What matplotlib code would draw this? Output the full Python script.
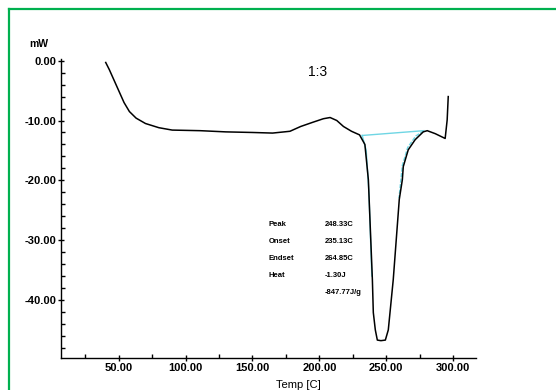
import matplotlib
matplotlib.use("Agg")
import matplotlib.pyplot as plt
from matplotlib.lines import Line2D
from matplotlib.ticker import MultipleLocator, FormatStrFormatter

# DSC trace (temperature in C, heat flow in mW)
temp = [40.3, 43.0, 46.0, 50.0, 54.0, 58.0, 63.0, 70.0, 80.0, 90.0, 111.0,
        130.0, 150.0, 165.0, 178.0, 186.0, 195.0, 203.0, 208.0, 213.0, 218.0,
        224.0, 230.0, 234.0, 236.6, 239.6, 240.3, 241.8, 243.3, 246.0, 249.3,
        251.5, 255.2, 259.7, 262.0, 262.7, 266.4, 271.6, 277.6, 280.6, 286.6,
        294.0, 295.5, 296.3]
flow = [-0.3, -1.5, -3.0, -5.0, -7.0, -8.5, -9.6, -10.5, -11.2, -11.6, -11.7,
        -11.9, -12.0, -12.1, -11.8, -11.0, -10.3, -9.7, -9.5, -10.0, -11.0,
        -11.8, -12.4, -14.0, -19.9, -36.6, -42.1, -45.0, -46.7, -46.8, -46.7,
        -45.0, -36.6, -23.2, -19.9, -17.7, -14.9, -13.2, -11.9, -11.7, -12.2,
        -13.0, -9.9, -6.0]

# cyan integration baseline and tangent guides
base_t = [232.0, 278.0]
base_f = [-12.5, -11.7]
left_t = [232.0, 235.0, 237.0, 239.2]
left_f = [-12.5, -15.0, -22.0, -36.0]
right_t = [278.0, 272.0, 266.0, 262.0, 259.5]
right_f = [-11.7, -12.6, -14.5, -17.5, -23.0]

info_names = ["Peak", "Onset", "Endset", "Heat", ""]
info_values = ["248.33C", "235.13C", "264.85C", "-1.30J", "-847.77J/g"]

fam = ["Liberation Sans Narrow", "Liberation Sans", "DejaVu Sans"]

fig = plt.figure(figsize=(5.56, 3.9), dpi=100)
ax = fig.add_axes([0.110, 0.082, 0.746, 0.767])

cyan = "#6fd6e4"
ax.plot(base_t, base_f, color=cyan, lw=1.0)
ax.plot(left_t, left_f, color=cyan, lw=1.0)
ax.plot(right_t, right_f, color=cyan, lw=1.0, ls=(0, (3, 1)))
ax.plot(temp, flow, color="black", lw=1.1)

ax.set_xlim(7, 317)
ax.set_ylim(-49.7, 0.3)

for s in ["top", "right"]:
    ax.spines[s].set_visible(False)
for s in ["left", "bottom"]:
    ax.spines[s].set_linewidth(1.0)

ax.xaxis.set_major_locator(MultipleLocator(50))
ax.xaxis.set_minor_locator(MultipleLocator(25))
ax.yaxis.set_major_locator(MultipleLocator(10))
ax.yaxis.set_minor_locator(MultipleLocator(2))
ax.xaxis.set_major_formatter(FormatStrFormatter("%.2f"))
ax.yaxis.set_major_formatter(FormatStrFormatter("%.2f"))
ax.tick_params(which="major", direction="inout", length=5, width=1.0,
               labelsize=8, pad=1)
ax.tick_params(which="minor", direction="in", length=3, width=1.0)
for lab in ax.get_xticklabels() + ax.get_yticklabels():
    lab.set_family(fam)
    lab.set_fontweight("bold")

ax.text(-0.055, 1.04, "mW", transform=ax.transAxes, fontsize=7.5,
        family=fam, fontweight="bold", ha="center")
fig.text(298 / 556, 0.005, "Temp [C]", fontsize=8, family=fam, ha="center")
ax.text(199, -1.9, "1:3", fontsize=10, family=fam, ha="center", va="center")

for i, (n, v) in enumerate(zip(info_names, info_values)):
    y = -27.3 - i * 2.85
    ax.text(162, y, n, fontsize=5.5, family=fam, fontweight="bold", va="center")
    ax.text(204, y, v, fontsize=5.5, family=fam, fontweight="bold", va="center")

# green frame
green = "#00b04f"
fig.add_artist(Line2D([8.5 / 556, 8.5 / 556], [0, 1 - 8.5 / 390],
                      transform=fig.transFigure, color=green, lw=1.6))
fig.add_artist(Line2D([8.5 / 556, 1], [1 - 8.5 / 390, 1 - 8.5 / 390],
                      transform=fig.transFigure, color=green, lw=1.6))

fig.savefig("out.png", dpi=100)
